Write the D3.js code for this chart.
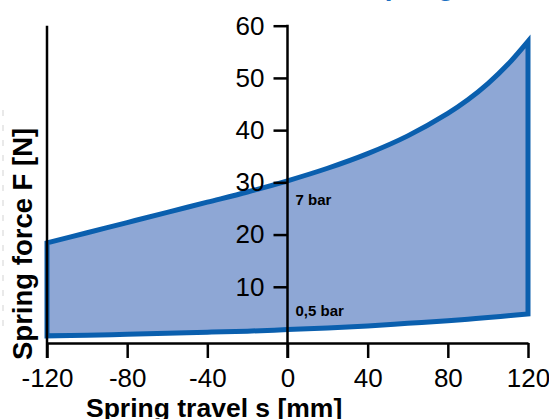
<!DOCTYPE html>
<html>
<head>
<meta charset="utf-8">
<script src="https://cdn.jsdelivr.net/npm/d3@7"></script>
<style>
  body { margin: 0; background: #fff; }
  svg { display: block; font-family: "Liberation Sans", Arial, sans-serif; }
</style>
</head>
<body>
<svg id="chart" width="549" height="419"></svg>
<script>
// spring travel s [mm]
const travel = [-120, -100, -80, -60, -40, -20, 0, 20, 40, 60, 80, 90, 100, 110, 120];
// force at 7 bar and 0,5 bar [N]
const force7bar = [18.4, 20.35, 22.3, 24.25, 26.2, 28.15, 30.3, 32.7, 35.5, 38.9, 43.2, 45.8, 48.9, 52.6, 57.0];
const force05bar = [0.6, 0.7, 0.9, 1.1, 1.3, 1.5, 1.8, 2.1, 2.5, 3.0, 3.5, 3.8, 4.1, 4.45, 4.8];

const xTicks = [-120, -80, -40, 0, 40, 80, 120];
const yTicks = [10, 20, 30, 40, 50, 60];

const blue = "#0a5fae";
const fillBlue = "#8ea7d5";

var svg = d3.select("#chart");

var x = d3.scaleLinear().domain([-120, 120]).range([47, 528]);
var y = d3.scaleLinear().domain([0, 60]).range([339, 25.7]);

var xAxisY = 343;

// faint dashed line at the far left
svg.append("line")
  .attr("x1", 3).attr("x2", 3)
  .attr("y1", 110).attr("y2", 330)
  .attr("stroke", "#e2e2e2")
  .attr("stroke-width", 1.5)
  .attr("stroke-dasharray", "6,9");

// title, cut by the top edge
svg.append("text")
  .attr("x", 366)
  .attr("y", -5.5)
  .attr("fill", "#1d6fc2")
  .style("font-size", "28px")
  .style("font-weight", "bold")
  .text("Spring");

var data = travel.map(function (s, i) {
  return { s: s, hi: force7bar[i], lo: force05bar[i] };
});

var area = d3.area()
  .x(function (d) { return x(d.s); })
  .y0(function (d) { return y(d.lo); })
  .y1(function (d) { return y(d.hi); })
  .curve(d3.curveCatmullRom);

svg.append("path")
  .datum(data)
  .attr("d", area)
  .attr("fill", fillBlue)
  .attr("stroke", blue)
  .attr("stroke-width", 5)
  .attr("stroke-linejoin", "miter")
  .attr("stroke-miterlimit", 10);

// left border line
svg.append("line")
  .attr("x1", x(-120)).attr("x2", x(-120))
  .attr("y1", y(60)).attr("y2", xAxisY + 15)
  .attr("stroke", "#000")
  .attr("stroke-width", 2.5);

// x axis
var xAxis = svg.append("g")
  .attr("transform", "translate(0," + xAxisY + ")")
  .call(d3.axisBottom(x).tickValues(xTicks).tickSize(15).tickSizeOuter(0).tickPadding(11)
    .tickFormat(function (d) { return String(d); }));

xAxis.select(".domain").attr("stroke-width", 2.5);
xAxis.selectAll(".tick line").attr("stroke-width", 2.5);
xAxis.selectAll(".tick text")
  .style("font-size", "26px")
  .attr("fill", "#000");

// y axis through s = 0
var yAxis = svg.append("g")
  .attr("transform", "translate(" + x(0) + ",0)")
  .call(d3.axisLeft(y).tickValues(yTicks).tickSize(14).tickPadding(9));

yAxis.select(".domain").remove();
yAxis.selectAll(".tick line").attr("stroke-width", 2.5);
yAxis.selectAll(".tick text")
  .style("font-size", "26px")
  .attr("fill", "#000");

yAxis.append("line")
  .attr("x1", 0).attr("x2", 0)
  .attr("y1", y(60) - 1).attr("y2", xAxisY + 15)
  .attr("stroke", "#000")
  .attr("stroke-width", 2.5);

// curve labels
svg.append("text")
  .attr("x", x(0) + 8)
  .attr("y", 205)
  .style("font-size", "15px")
  .style("font-weight", "bold")
  .text("7 bar");

svg.append("text")
  .attr("x", x(0) + 8)
  .attr("y", 316)
  .style("font-size", "15px")
  .style("font-weight", "bold")
  .text("0,5 bar");

// axis titles
svg.append("text")
  .attr("x", 86)
  .attr("y", 417)
  .style("font-size", "26.5px")
  .style("font-weight", "bold")
  .text("Spring travel s [mm]");

svg.append("text")
  .attr("transform", "translate(32,360) rotate(-90)")
  .style("font-size", "27.5px")
  .style("font-weight", "bold")
  .text("Spring force F [N]");
</script>
</body>
</html>
